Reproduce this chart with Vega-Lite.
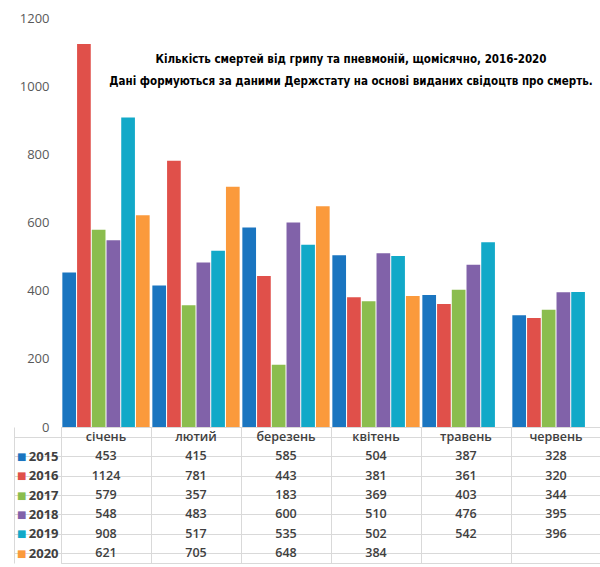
{
  "$schema": "https://vega.github.io/schema/vega-lite/v6.json",
  "background": "white",
  "padding": {"left": 13, "top": 12, "right": 0, "bottom": 0},
  "spacing": 0,
  "bounds": "flush",
  "config": {"font": "Open Sans"},
  "datasets": {
    "deaths": [
      {"month": "січень", "year": "2015", "deaths": 453},
      {"month": "січень", "year": "2016", "deaths": 1124},
      {"month": "січень", "year": "2017", "deaths": 579},
      {"month": "січень", "year": "2018", "deaths": 548},
      {"month": "січень", "year": "2019", "deaths": 908},
      {"month": "січень", "year": "2020", "deaths": 621},
      {"month": "лютий", "year": "2015", "deaths": 415},
      {"month": "лютий", "year": "2016", "deaths": 781},
      {"month": "лютий", "year": "2017", "deaths": 357},
      {"month": "лютий", "year": "2018", "deaths": 483},
      {"month": "лютий", "year": "2019", "deaths": 517},
      {"month": "лютий", "year": "2020", "deaths": 705},
      {"month": "березень", "year": "2015", "deaths": 585},
      {"month": "березень", "year": "2016", "deaths": 443},
      {"month": "березень", "year": "2017", "deaths": 183},
      {"month": "березень", "year": "2018", "deaths": 600},
      {"month": "березень", "year": "2019", "deaths": 535},
      {"month": "березень", "year": "2020", "deaths": 648},
      {"month": "квітень", "year": "2015", "deaths": 504},
      {"month": "квітень", "year": "2016", "deaths": 381},
      {"month": "квітень", "year": "2017", "deaths": 369},
      {"month": "квітень", "year": "2018", "deaths": 510},
      {"month": "квітень", "year": "2019", "deaths": 502},
      {"month": "квітень", "year": "2020", "deaths": 384},
      {"month": "травень", "year": "2015", "deaths": 387},
      {"month": "травень", "year": "2016", "deaths": 361},
      {"month": "травень", "year": "2017", "deaths": 403},
      {"month": "травень", "year": "2018", "deaths": 476},
      {"month": "травень", "year": "2019", "deaths": 542},
      {"month": "червень", "year": "2015", "deaths": 328},
      {"month": "червень", "year": "2016", "deaths": 320},
      {"month": "червень", "year": "2017", "deaths": 344},
      {"month": "червень", "year": "2018", "deaths": 395},
      {"month": "червень", "year": "2019", "deaths": 396}
    ]
  },
  "vconcat": [
    {
      "width": 540,
      "height": 409,
      "view": {"stroke": null},
      "title": {
        "text": [
          "Кількість смертей від грипу та пневмоній, щомісячно, 2016-2020",
          "Дані формуються за даними Держстату на основі виданих свідоцтв про смерть."
        ],
        "font": "DejaVu Sans Condensed",
        "fontSize": 11.5,
        "fontWeight": "bold",
        "color": "#000000",
        "anchor": "middle",
        "dx": 20,
        "dy": 79,
        "lineHeight": 22
      },
      "data": {"name": "deaths"},
      "mark": {"type": "bar"},
      "encoding": {
        "x": {
          "field": "month",
          "type": "nominal",
          "sort": ["січень", "лютий", "березень", "квітень", "травень", "червень"],
          "scale": {"paddingInner": 0.03, "paddingOuter": 0.015},
          "axis": null
        },
        "xOffset": {
          "field": "year",
          "type": "nominal",
          "scale": {"domain": ["2015", "2016", "2017", "2018", "2019", "2020"], "paddingInner": 0.07}
        },
        "y": {
          "field": "deaths",
          "type": "quantitative",
          "scale": {"domain": [0, 1200]},
          "axis": {
            "values": [0, 200, 400, 600, 800, 1000, 1200],
            "format": "d",
            "grid": false,
            "domain": false,
            "ticks": false,
            "labelPadding": 12,
            "labelColor": "#595959",
            "labelFontSize": 13,
            "labelFont": "Open Sans",
            "title": null
          }
        },
        "color": {
          "field": "year",
          "type": "nominal",
          "scale": {
            "domain": ["2015", "2016", "2017", "2018", "2019", "2020"],
            "range": ["#1a75c0", "#e0504a", "#8bbd4e", "#8162a9", "#12a9c8", "#fb9a3c"]
          },
          "legend": null
        }
      }
    },
    {
      "width": 540,
      "height": 136,
      "view": {"stroke": "#d9d9d9"},
      "data": {"name": "deaths"},
      "encoding": {
        "x": {
          "field": "month",
          "type": "nominal",
          "sort": ["січень", "лютий", "березень", "квітень", "травень", "червень"],
          "scale": {"paddingInner": 0, "paddingOuter": 0},
          "axis": {
            "tickBand": "extent",
            "grid": true,
            "gridColor": "#d9d9d9",
            "labels": false,
            "ticks": false,
            "domain": false,
            "title": null
          }
        }
      },
      "layer": [
        {
          "mark": {"type": "text", "fontWeight": 600, "fontSize": 12.5, "color": "#404040", "font": "Open Sans"},
          "encoding": {
            "y": {
              "field": "year",
              "type": "nominal",
              "scale": {"domain": ["hdr", "2015", "2016", "2017", "2018", "2019", "2020"], "paddingInner": 0, "paddingOuter": 0},
              "axis": {
                "orient": "left",
                "labelExpr": "datum.value == 'hdr' ? '' : datum.value",
                "labelFont": "Open Sans",
                "labelFontWeight": "bold",
                "labelFontSize": 13,
                "labelColor": "#404040",
                "ticks": true,
                "tickSize": 47,
                "tickColor": "#d9d9d9",
                "bandPosition": 1,
                "labelPadding": -44,
                "domain": false,
                "grid": true,
                "gridColor": "#d9d9d9",
                "title": null
              }
            },
            "text": {"field": "deaths", "type": "quantitative"}
          }
        },
        {
          "transform": [{"aggregate": [{"op": "count", "as": "n"}], "groupby": ["month"]}],
          "mark": {"type": "text", "fontWeight": 600, "fontSize": 12.5, "color": "#404040", "font": "Open Sans"},
          "encoding": {
            "y": {
              "datum": "hdr",
              "type": "nominal",
              "scale": {"domain": ["hdr", "2015", "2016", "2017", "2018", "2019", "2020"], "paddingInner": 0, "paddingOuter": 0},
              "axis": {
                "orient": "left",
                "offset": 47,
                "labelExpr": "datum.value == 'hdr' ? '' : '■'",
                "labelFont": "DejaVu Sans",
                "labelFontSize": 10,
                "labelColor": {
                  "condition": [
                    {"test": "datum.value == '2015'", "value": "#1a75c0"},
                    {"test": "datum.value == '2016'", "value": "#e0504a"},
                    {"test": "datum.value == '2017'", "value": "#8bbd4e"},
                    {"test": "datum.value == '2018'", "value": "#8162a9"},
                    {"test": "datum.value == '2019'", "value": "#12a9c8"}
                  ],
                  "value": "#fb9a3c"
                },
                "ticks": false,
                "labelPadding": -12,
                "domain": true,
                "domainColor": "#d9d9d9",
                "grid": false,
                "title": null
              }
            },
            "text": {"field": "month", "type": "nominal"}
          }
        }
      ],
      "resolve": {"axis": {"y": "independent"}}
    }
  ]
}
